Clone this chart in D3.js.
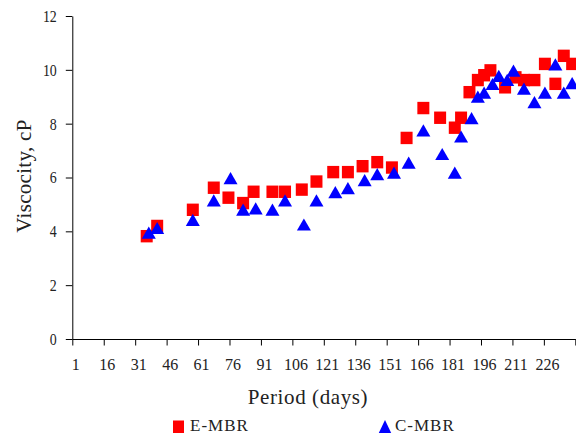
<!DOCTYPE html>
<html>
<head>
<meta charset="utf-8">
<script src="https://cdn.jsdelivr.net/npm/d3@7"></script>
<style>
  body { margin: 0; background: #fff; }
  svg { display: block; font-family: "Liberation Serif", "Times New Roman", serif; }
</style>
</head>
<body>
<div id="plot"></div>
<script>
// E-MBR series (days, viscosity cP)
var eDays = [36, 41, 58, 68, 75, 82, 87, 96, 102, 110, 117, 125, 132, 139, 146, 153, 160, 168,
             176, 183, 186, 190, 194, 197, 200, 207, 212, 216, 221, 226, 231, 235, 239];
var eVisc = [3.82, 4.2, 4.8, 5.62, 5.25, 5.05, 5.47, 5.47, 5.47, 5.55, 5.85, 6.2, 6.2, 6.42, 6.57, 6.37, 7.47, 8.58,
             8.22, 7.85, 8.22, 9.17, 9.62, 9.8, 9.98, 9.35, 9.72, 9.62, 9.62, 10.22, 9.48, 10.52, 10.22];

// C-MBR series
var cDays = [37, 41, 58, 68, 76, 82, 88, 96, 102, 111, 117, 126, 132, 140, 146, 154, 161, 168,
             177, 183, 186, 191, 194, 197, 201, 204, 208, 211, 216, 221, 226, 231, 235, 239];
var cVisc = [3.95, 4.12, 4.42, 5.15, 5.97, 4.8, 4.85, 4.8, 5.15, 4.25, 5.15, 5.45, 5.6, 5.9, 6.12, 6.18, 6.55, 7.75,
             6.87, 6.18, 7.52, 8.2, 9.0, 9.15, 9.47, 9.77, 9.62, 9.97, 9.3, 8.8, 9.15, 10.2, 9.15, 9.5];

var xLabels = [1, 16, 31, 46, 61, 76, 91, 106, 121, 136, 151, 166, 181, 196, 211, 226];
var yTicks = [0, 2, 4, 6, 8, 10, 12];
var seriesNames = ['E-MBR', 'C-MBR'];

var W = 576, H = 438;
var margin = {t:16, r:0.7, b:99, l:72.3};

var svg = d3.select('#plot')
	.append('svg')
	.attr('width', W)
	.attr('height', H);

var x = d3.scaleLinear().domain([0.5, 240.5]).range([margin.l, W - margin.r]);
var y = d3.scaleLinear().domain([0, 12]).range([H - margin.b, margin.t]);

// category boundaries every 15 days for the tick marks
var xBounds = xLabels.map(function(d){ return d - 0.5; }).concat([240.5]);

var xAxisG = svg.append('g')
	.attr('transform', 'translate(0,' + y(0) + ')')
	.style('color', '#000')
	.call(d3.axisBottom(x).tickValues(xBounds).tickSize(6.5).tickSizeOuter(0).tickFormat(''));

var xLabelG = svg.append('g')
	.attr('transform', 'translate(0,' + y(0) + ')')
	.style('color', '#000')
	.call(d3.axisBottom(x).tickValues(xLabels).tickSize(0).tickPadding(20));
xLabelG.select('.domain').remove();
xLabelG.selectAll('text')
	.attr('dx', 2)
	.style('font-family', '"Liberation Serif", serif')
	.style('font-size', '16px')
	.attr('fill', '#222');

var yAxisG = svg.append('g')
	.attr('transform', 'translate(' + x(0.5) + ',0)')
	.style('color', '#000')
	.call(d3.axisLeft(y).tickValues(yTicks).tickSize(6.5).tickSizeOuter(0).tickPadding(9));
yAxisG.selectAll('text')
	.style('font-family', '"Liberation Serif", serif')
	.style('font-size', '17px')
	.attr('fill', '#222')
	.attr('x', -15.5 / 0.82)
	.attr('transform', 'scale(0.82,1)');

// markers
var tri = 'M0,-6.2L7,6L-7,6Z';

svg.append('g').selectAll('rect')
	.data(eDays)
	.enter()
	.append('rect')
	.attr('x', function(d){ return x(d) - 6; })
	.attr('y', function(d, i){ return y(eVisc[i]) - 6.2; })
	.attr('width', 12)
	.attr('height', 12.4)
	.attr('fill', '#ff0000');

svg.append('g').selectAll('path')
	.data(cDays)
	.enter()
	.append('path')
	.attr('d', tri)
	.attr('transform', function(d, i){ return 'translate(' + x(d) + ',' + y(cVisc[i]) + ')'; })
	.attr('fill', '#0000ff');

// axis titles
svg.append('text')
	.attr('x', 308)
	.attr('y', 404)
	.attr('text-anchor', 'middle')
	.style('font-size', '21px')
	.style('letter-spacing', '0.6px')
	.attr('fill', '#222')
	.text('Period (days)');

svg.append('text')
	.attr('transform', 'translate(31,176) rotate(-90)')
	.attr('text-anchor', 'middle')
	.style('font-size', '21px')
	.style('letter-spacing', '0.3px')
	.attr('fill', '#222')
	.text('Viscocity, cP');

// legend
svg.append('rect')
	.attr('x', 173)
	.attr('y', 420.5)
	.attr('width', 11)
	.attr('height', 12.5)
	.attr('fill', '#ff0000');
svg.append('text')
	.attr('x', 190)
	.attr('y', 431)
	.style('font-size', '17px')
	.style('letter-spacing', '1px')
	.attr('fill', '#222')
	.text(seriesNames[0]);

svg.append('path')
	.attr('d', 'M0,-6.5L6.2,6.5L-6.2,6.5Z')
	.attr('transform', 'translate(385,426.5)')
	.attr('fill', '#0000ff');
svg.append('text')
	.attr('x', 395)
	.attr('y', 431)
	.style('font-size', '17px')
	.style('letter-spacing', '1px')
	.attr('fill', '#222')
	.text(seriesNames[1]);
</script>
</body>
</html>
